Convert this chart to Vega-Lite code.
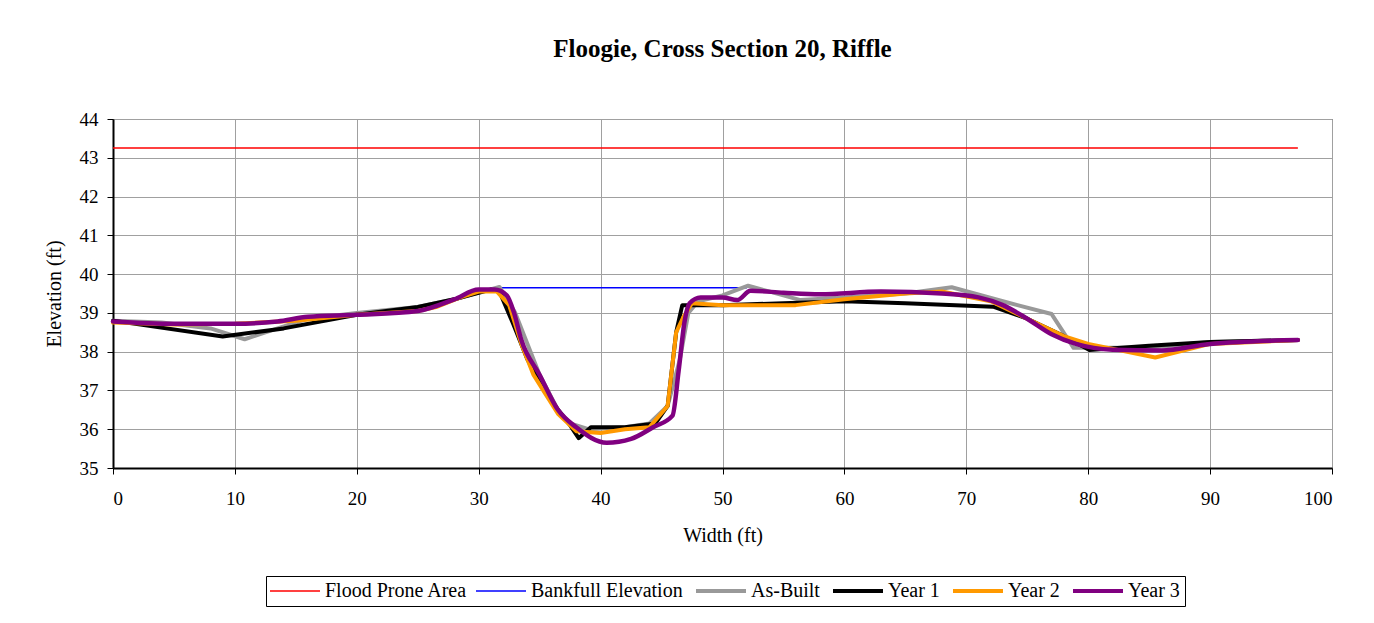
{
  "$schema": "https://vega.github.io/schema/vega-lite/v6.json",
  "width": 1219,
  "height": 349,
  "autosize": {"type": "none"},
  "padding": {"left": 113, "top": 119, "right": 42, "bottom": 155},
  "background": "white",
  "title": {
    "text": "Floogie, Cross Section 20, Riffle",
    "font": "Liberation Serif",
    "fontSize": 25,
    "fontWeight": "bold",
    "color": "black",
    "anchor": "middle",
    "offset": 48
  },
  "config": {
    "view": {"stroke": "#404040", "strokeWidth": 1},
    "axis": {
      "labelFont": "Liberation Serif",
      "labelFontSize": 19,
      "labelColor": "black",
      "titleFont": "Liberation Serif",
      "titleFontSize": 20,
      "titleFontWeight": "normal",
      "titleColor": "black",
      "gridColor": "#a0a0a0",
      "gridWidth": 1,
      "domainColor": "black",
      "domainWidth": 2,
      "tickColor": "black",
      "tickSize": 6
    }
  },
  "data": {
    "values": [
      {"series": "Flood Prone Area", "x": 0, "y": 43.25},
      {"series": "Flood Prone Area", "x": 97.2, "y": 43.25},
      {"series": "Bankfull Elevation", "x": 31.6, "y": 39.65},
      {"series": "Bankfull Elevation", "x": 52.0, "y": 39.65},

      {"series": "As-Built", "x": 0, "y": 38.8},
      {"series": "As-Built", "x": 4, "y": 38.75},
      {"series": "As-Built", "x": 8, "y": 38.6},
      {"series": "As-Built", "x": 10.8, "y": 38.32},
      {"series": "As-Built", "x": 13, "y": 38.55},
      {"series": "As-Built", "x": 16, "y": 38.85},
      {"series": "As-Built", "x": 20, "y": 39.0},
      {"series": "As-Built", "x": 25, "y": 39.15},
      {"series": "As-Built", "x": 28, "y": 39.35},
      {"series": "As-Built", "x": 31.7, "y": 39.67},
      {"series": "As-Built", "x": 33, "y": 39.0},
      {"series": "As-Built", "x": 34, "y": 38.2},
      {"series": "As-Built", "x": 35, "y": 37.4},
      {"series": "As-Built", "x": 36.5, "y": 36.5},
      {"series": "As-Built", "x": 37.5, "y": 36.15},
      {"series": "As-Built", "x": 39, "y": 36.0},
      {"series": "As-Built", "x": 42, "y": 36.05},
      {"series": "As-Built", "x": 44, "y": 36.15},
      {"series": "As-Built", "x": 45.5, "y": 36.6},
      {"series": "As-Built", "x": 46.5, "y": 37.8},
      {"series": "As-Built", "x": 47.2, "y": 39.0},
      {"series": "As-Built", "x": 48, "y": 39.3},
      {"series": "As-Built", "x": 50, "y": 39.45},
      {"series": "As-Built", "x": 52.1, "y": 39.7},
      {"series": "As-Built", "x": 56.4, "y": 39.33},
      {"series": "As-Built", "x": 60, "y": 39.4},
      {"series": "As-Built", "x": 65, "y": 39.5},
      {"series": "As-Built", "x": 68.8, "y": 39.66},
      {"series": "As-Built", "x": 73, "y": 39.3},
      {"series": "As-Built", "x": 77, "y": 38.97},
      {"series": "As-Built", "x": 78.8, "y": 38.1},
      {"series": "As-Built", "x": 80, "y": 38.1},
      {"series": "As-Built", "x": 85, "y": 38.1},
      {"series": "As-Built", "x": 90, "y": 38.25},
      {"series": "As-Built", "x": 97.2, "y": 38.3},

      {"series": "Year 1", "x": 0, "y": 38.8},
      {"series": "Year 1", "x": 9.0, "y": 38.39},
      {"series": "Year 1", "x": 14, "y": 38.6},
      {"series": "Year 1", "x": 20, "y": 38.95},
      {"series": "Year 1", "x": 25, "y": 39.15},
      {"series": "Year 1", "x": 28, "y": 39.35},
      {"series": "Year 1", "x": 31, "y": 39.6},
      {"series": "Year 1", "x": 31.7, "y": 39.55},
      {"series": "Year 1", "x": 32.8, "y": 38.74},
      {"series": "Year 1", "x": 34, "y": 37.8},
      {"series": "Year 1", "x": 35, "y": 37.2},
      {"series": "Year 1", "x": 36.5, "y": 36.5},
      {"series": "Year 1", "x": 37.5, "y": 36.1},
      {"series": "Year 1", "x": 38.2, "y": 35.77},
      {"series": "Year 1", "x": 39.2, "y": 36.05},
      {"series": "Year 1", "x": 42, "y": 36.05},
      {"series": "Year 1", "x": 44.5, "y": 36.15},
      {"series": "Year 1", "x": 45.5, "y": 36.6},
      {"series": "Year 1", "x": 46.2, "y": 38.5},
      {"series": "Year 1", "x": 46.7, "y": 39.2},
      {"series": "Year 1", "x": 50, "y": 39.2},
      {"series": "Year 1", "x": 55, "y": 39.25},
      {"series": "Year 1", "x": 60, "y": 39.3},
      {"series": "Year 1", "x": 65, "y": 39.25},
      {"series": "Year 1", "x": 72.2, "y": 39.16},
      {"series": "Year 1", "x": 75, "y": 38.85},
      {"series": "Year 1", "x": 78, "y": 38.4},
      {"series": "Year 1", "x": 80.1, "y": 38.04},
      {"series": "Year 1", "x": 85, "y": 38.15},
      {"series": "Year 1", "x": 90, "y": 38.25},
      {"series": "Year 1", "x": 97.2, "y": 38.3},

      {"series": "Year 2", "x": 0, "y": 38.75},
      {"series": "Year 2", "x": 5, "y": 38.7},
      {"series": "Year 2", "x": 10, "y": 38.72},
      {"series": "Year 2", "x": 15, "y": 38.8},
      {"series": "Year 2", "x": 20, "y": 38.95},
      {"series": "Year 2", "x": 25, "y": 39.05},
      {"series": "Year 2", "x": 26.5, "y": 39.15},
      {"series": "Year 2", "x": 28.5, "y": 39.4},
      {"series": "Year 2", "x": 30, "y": 39.55},
      {"series": "Year 2", "x": 31.5, "y": 39.55},
      {"series": "Year 2", "x": 32.5, "y": 39.2},
      {"series": "Year 2", "x": 33.5, "y": 38.2},
      {"series": "Year 2", "x": 34.5, "y": 37.4},
      {"series": "Year 2", "x": 35.5, "y": 36.9},
      {"series": "Year 2", "x": 36.5, "y": 36.4},
      {"series": "Year 2", "x": 38, "y": 35.95},
      {"series": "Year 2", "x": 40, "y": 35.9},
      {"series": "Year 2", "x": 42, "y": 36.0},
      {"series": "Year 2", "x": 44, "y": 36.05},
      {"series": "Year 2", "x": 45.5, "y": 36.6},
      {"series": "Year 2", "x": 46.2, "y": 38.5},
      {"series": "Year 2", "x": 46.8, "y": 38.9},
      {"series": "Year 2", "x": 47.5, "y": 39.25},
      {"series": "Year 2", "x": 50, "y": 39.2},
      {"series": "Year 2", "x": 56, "y": 39.2},
      {"series": "Year 2", "x": 60, "y": 39.35},
      {"series": "Year 2", "x": 65, "y": 39.5},
      {"series": "Year 2", "x": 68, "y": 39.55},
      {"series": "Year 2", "x": 72, "y": 39.3},
      {"series": "Year 2", "x": 75, "y": 38.85},
      {"series": "Year 2", "x": 78, "y": 38.4},
      {"series": "Year 2", "x": 80, "y": 38.2},
      {"series": "Year 2", "x": 85.5, "y": 37.85},
      {"series": "Year 2", "x": 90, "y": 38.2},
      {"series": "Year 2", "x": 97.2, "y": 38.3},

      {"series": "Year 3", "x": 0, "y": 38.78},
      {"series": "Year 3", "x": 5, "y": 38.72},
      {"series": "Year 3", "x": 10, "y": 38.72},
      {"series": "Year 3", "x": 13.5, "y": 38.78},
      {"series": "Year 3", "x": 16, "y": 38.9},
      {"series": "Year 3", "x": 20, "y": 38.95},
      {"series": "Year 3", "x": 25, "y": 39.05},
      {"series": "Year 3", "x": 28, "y": 39.35},
      {"series": "Year 3", "x": 30, "y": 39.6},
      {"series": "Year 3", "x": 31.3, "y": 39.6},
      {"series": "Year 3", "x": 32.3, "y": 39.45},
      {"series": "Year 3", "x": 32.9, "y": 39.0},
      {"series": "Year 3", "x": 33.5, "y": 38.3},
      {"series": "Year 3", "x": 35, "y": 37.4},
      {"series": "Year 3", "x": 36.5, "y": 36.5},
      {"series": "Year 3", "x": 38, "y": 36.05},
      {"series": "Year 3", "x": 40.5, "y": 35.65},
      {"series": "Year 3", "x": 42.5, "y": 35.75},
      {"series": "Year 3", "x": 44.3, "y": 36.05},
      {"series": "Year 3", "x": 45.9, "y": 36.35},
      {"series": "Year 3", "x": 46.4, "y": 37.5},
      {"series": "Year 3", "x": 46.9, "y": 38.8},
      {"series": "Year 3", "x": 47.3, "y": 39.25},
      {"series": "Year 3", "x": 48.2, "y": 39.4},
      {"series": "Year 3", "x": 50, "y": 39.4},
      {"series": "Year 3", "x": 51.2, "y": 39.33},
      {"series": "Year 3", "x": 52.3, "y": 39.57},
      {"series": "Year 3", "x": 55, "y": 39.52},
      {"series": "Year 3", "x": 58, "y": 39.48},
      {"series": "Year 3", "x": 63, "y": 39.55},
      {"series": "Year 3", "x": 68, "y": 39.5},
      {"series": "Year 3", "x": 71, "y": 39.4},
      {"series": "Year 3", "x": 73, "y": 39.2},
      {"series": "Year 3", "x": 75, "y": 38.85},
      {"series": "Year 3", "x": 77, "y": 38.45},
      {"series": "Year 3", "x": 79, "y": 38.2},
      {"series": "Year 3", "x": 82, "y": 38.05},
      {"series": "Year 3", "x": 86, "y": 38.03},
      {"series": "Year 3", "x": 90, "y": 38.2},
      {"series": "Year 3", "x": 97.2, "y": 38.3}
    ]
  },
  "encoding": {
    "x": {
      "field": "x",
      "type": "quantitative",
      "scale": {"domain": [0, 100], "nice": false, "zero": false},
      "axis": {"values": [0, 10, 20, 30, 40, 50, 60, 70, 80, 90, 100], "title": "Width (ft)", "titlePadding": 17, "labelPadding": 15}
    },
    "y": {
      "field": "y",
      "type": "quantitative",
      "scale": {"domain": [35, 44], "nice": false, "zero": false},
      "axis": {"values": [35, 36, 37, 38, 39, 40, 41, 42, 43, 44], "title": "Elevation (ft)", "titlePadding": 15, "labelPadding": 9}
    },
    "color": {
      "field": "series",
      "type": "nominal",
      "scale": {
        "domain": ["Flood Prone Area", "Bankfull Elevation", "As-Built", "Year 1", "Year 2", "Year 3"],
        "range": ["#ff0000", "#0000ff", "#999999", "#000000", "#ff9900", "#800080"]
      },
      "legend": {
        "title": null,
        "orient": "none",
        "legendX": 153,
        "legendY": 457,
        "direction": "horizontal",
        "columns": 6,
        "symbolType": "stroke",
        "symbolSize": 2500,
        "symbolStrokeWidth": 4,
        "labelFont": "Liberation Serif",
        "labelFontSize": 20,
        "labelColor": "black",
        "labelOffset": 20,
        "strokeColor": "black",
        "padding": 5,
        "columnPadding": 5,
        "symbolOffset": 14,
        "encode": {
          "symbols": {
            "update": {
              "strokeWidth": {"signal": "datum.value == 'Flood Prone Area' || datum.value == 'Bankfull Elevation' ? 1.5 : 4"}
            }
          }
        }
      }
    }
  },
  "layer": [
    {
      "transform": [{"filter": "datum.series == 'Flood Prone Area' || datum.series == 'Bankfull Elevation'"}],
      "mark": {"type": "line", "interpolate": "linear", "strokeWidth": 1.5}
    },
    {
      "transform": [{"filter": "datum.series == 'As-Built' || datum.series == 'Year 1' || datum.series == 'Year 2'"}],
      "mark": {"type": "line", "interpolate": "linear", "strokeWidth": 4, "strokeJoin": "round", "strokeCap": "round"}
    },
    {
      "transform": [{"filter": "datum.series == 'Year 3'"}],
      "mark": {"type": "line", "interpolate": "monotone", "strokeWidth": 4.5, "strokeJoin": "round", "strokeCap": "round"}
    }
  ]
}
